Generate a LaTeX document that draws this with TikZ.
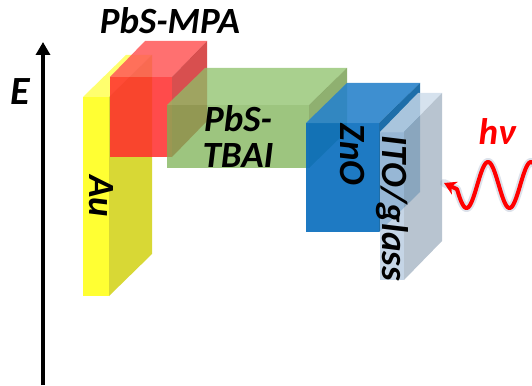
\documentclass[tikz,border=0pt]{standalone}
\usepackage{fontspec}
\setmainfont{Carlito}
\usetikzlibrary{arrows.meta,calc,positioning}

% layer colours: front / top / side
\definecolor{auFront}{RGB}{255,255,51}
\definecolor{auTop}{RGB}{255,255,110}
\definecolor{auSide}{RGB}{216,216,53}
\definecolor{mpaFront}{RGB}{255,44,44}
\definecolor{mpaTop}{RGB}{255,87,87}
\definecolor{mpaSide}{RGB}{209,48,48}
\definecolor{tbaiFront}{RGB}{124,177,84}
\definecolor{tbaiTop}{RGB}{140,192,104}
\definecolor{tbaiSide}{RGB}{105,149,64}
\definecolor{znoFront}{RGB}{6,108,189}
\definecolor{znoTop}{RGB}{41,131,203}
\definecolor{znoSide}{RGB}{5,94,160}
\definecolor{itoFront}{RGB}{182,203,224}
\definecolor{itoTop}{RGB}{204,219,234}
\definecolor{itoSide}{RGB}{166,181,196}
\definecolor{hvRed}{RGB}{255,0,0}
\definecolor{hvGlow}{RGB}{120,140,175}

% top and right faces of the block whose front face is node #1
\newcommand{\slab}[5]{%
  \fill[#4] (#1.north west) -- ++(#2,#3) -- ($(#1.north east)+(#2,#3)$) -- (#1.north east) -- cycle;
  \fill[#5] (#1.north east) -- ++(#2,#3) -- ($(#1.south east)+(#2,#3)$) -- (#1.south east) -- cycle;
}

\begin{document}
\begin{tikzpicture}[x=1pt,y=-1pt,
    face/.style={inner sep=0pt,outer sep=0pt,anchor=north west},
    lbl/.style={font=\fontsize{37}{36}\selectfont\bfseries\itshape,inner sep=0pt},
    axis/.style={line width=4pt,-{Triangle[length=13pt,width=14pt]}},
    glow/.style={hvGlow,line width=8pt,opacity=0.25,line cap=round,line join=round},
    wave/.style={hvRed,line width=4pt,line join=round,-{Stealth[length=12pt,width=14pt]}}]
  \useasboundingbox (0,0) rectangle (532,385);

  % energy axis
  \coordinate (e0) at (43,385);
  \coordinate (e1) at (43,42);
  \draw[axis] (e0) -- (e1);
  \node[lbl,font=\fontsize{40}{40}\selectfont\bfseries\itshape] (E) at (20,92) {E};

  % Au electrode
  \node[face,fill=auFront,minimum width=26pt,minimum height=199pt] (au) at (83,97) {};
  \slab{au}{43}{-42}{auTop}{auSide}

  % PbS-MPA
  \begin{scope}[fill opacity=0.85]
    \node[face,fill=mpaFront,minimum width=62pt,minimum height=80pt] (mpa) at (110,77) {};
    \slab{mpa}{35}{-36}{mpaTop}{mpaSide}
  \end{scope}

  % PbS-TBAI
  \begin{scope}[fill opacity=0.75]
    \node[face,fill=tbaiFront,minimum width=142pt,minimum height=63pt] (tbai) at (167,105) {};
    \slab{tbai}{38}{-37}{tbaiTop}{tbaiSide}
  \end{scope}

  % ZnO
  \begin{scope}[fill opacity=0.9]
    \node[face,fill=znoFront,minimum width=73pt,minimum height=109pt] (zno) at (306,123) {};
    \slab{zno}{41}{-40}{znoTop}{znoSide}
  \end{scope}

  % ITO/glass substrate
  \begin{scope}[fill opacity=0.8]
    \node[face,fill=itoFront,minimum width=24pt,minimum height=148pt] (ito) at (380,132) {};
    \slab{ito}{38}{-39}{itoTop}{itoSide}
  \end{scope}

  % layer names
  \node[lbl,rotate=-90] at ($(au.center)+(5,0)$) {Au};
  \node[lbl] (mpaName) at (170,21) {PbS-MPA};
  \node[lbl,align=center] at ($(tbai.center)+(0,0)$) {PbS-\\TBAI};
  \node[lbl,rotate=-90] at ($(zno.center)+(10,-23)$) {ZnO};
  \node[lbl,rotate=-90] at ($(ito.center)+(0,2)$) {ITO/glass};

  % incoming light
  \coordinate (hvTip) at (444,183);
  \foreach \st in {glow,wave}
    \draw[\st] plot[domain=534:457,samples=100] (\x,{185-23*cos(8.372*(\x-488))}) -- (hvTip);
  \node[lbl,text=hvRed] (hv) at (497,132) {hν};
\end{tikzpicture}
\end{document}
